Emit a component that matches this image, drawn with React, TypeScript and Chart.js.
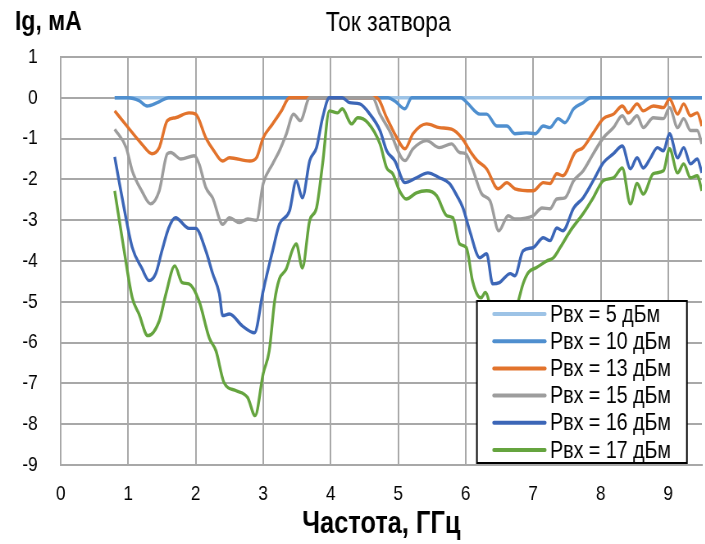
import { useEffect, useRef } from "react";
import { Chart, registerables } from "chart.js";

Chart.register(...registerables);

const FONT = "'Liberation Sans', Arial, sans-serif";

// The chart is laid out on a wider canvas and narrowed horizontally,
// which gives the condensed lettering of the original figure.
const SQUEEZE = 0.82;
const VIEW_W = 705;
const VIEW_H = 544;
const CANVAS_W = Math.round(VIEW_W / SQUEEZE);
const sx = (px: number) => px / SQUEEZE;

const chartTitle = "Ток затвора";
const yAxisTitle = "Ig, мА";
const xAxisTitle = "Частота, ГГц";

const seriesLabels = [
  "Рвх = 5 дБм",
  "Рвх = 10 дБм",
  "Рвх = 13 дБм",
  "Рвх = 15 дБм",
  "Рвх = 16 дБм",
  "Рвх = 17 дБм",
];
const seriesColors = ["#9dc3e6", "#4f8fcf", "#e2732c", "#9d9d9d", "#3c66b7", "#65a43f"];

// [frequency GHz, gate current mA]
const rvx5: [number, number][] = [
  [0.8, 0], [2, 0], [3, 0], [4, 0], [5, 0], [6, 0], [7, 0], [8, 0], [9, 0], [9.5, 0],
];

const rvx10: [number, number][] = [
  [0.8, 0], [1.0, 0], [1.16, -0.07], [1.28, -0.2], [1.43, -0.12], [1.6, 0], [2.5, 0], [3.5, 0],
  [4.5, 0], [4.85, 0], [4.95, -0.08], [5.1, -0.27], [5.2, 0], [5.5, 0], [5.93, 0], [6.02, -0.12],
  [6.21, -0.4], [6.31, -0.4], [6.46, -0.69], [6.61, -0.69], [6.73, -0.88], [6.9, -0.86],
  [7.03, -0.88], [7.15, -0.69], [7.25, -0.73], [7.37, -0.51], [7.47, -0.61], [7.6, -0.27],
  [7.74, -0.12], [7.85, 0], [8.5, 0], [9.0, 0], [9.5, 0],
];

const rvx13: [number, number][] = [
  [0.8, -0.32], [1.0, -0.73], [1.2, -1.13], [1.35, -1.37], [1.46, -1.22], [1.58, -0.56],
  [1.7, -0.49], [1.9, -0.37], [2.0, -0.4], [2.15, -0.98], [2.27, -1.3], [2.4, -1.55],
  [2.5, -1.47], [2.8, -1.55], [2.9, -1.47], [3.0, -0.98], [3.14, -0.64], [3.27, -0.32],
  [3.39, 0], [4.68, 0], [4.83, -0.49], [4.98, -0.98], [5.1, -1.25], [5.22, -0.88],
  [5.42, -0.64], [5.61, -0.73], [5.79, -0.77], [5.94, -0.98], [6.09, -1.37], [6.17, -1.54],
  [6.31, -1.74], [6.48, -2.23], [6.61, -2.08], [6.73, -2.23], [7.0, -2.28], [7.15, -2.08],
  [7.25, -2.1], [7.35, -1.86], [7.44, -1.91], [7.62, -1.34], [7.74, -1.22], [7.89, -0.86],
  [8.04, -0.51], [8.19, -0.4], [8.32, -0.2], [8.41, -0.37], [8.54, -0.15], [8.63, -0.32],
  [8.78, -0.2], [8.93, -0.24], [9.02, -0.03], [9.14, -0.4], [9.23, -0.15], [9.33, -0.44],
  [9.43, -0.37], [9.5, -0.69],
];

const rvx15: [number, number][] = [
  [0.8, -0.77], [0.97, -1.22], [1.06, -1.79], [1.2, -2.28], [1.33, -2.6], [1.46, -2.28],
  [1.58, -1.37], [1.63, -1.34], [1.78, -1.5], [1.98, -1.42], [2.05, -1.62], [2.15, -2.2],
  [2.25, -2.45], [2.4, -3.1], [2.5, -2.94], [2.65, -3.06], [2.77, -2.97], [2.9, -3.0],
  [3.0, -2.1], [3.14, -1.62], [3.24, -1.3], [3.34, -0.9], [3.45, -0.4], [3.55, -0.56],
  [3.69, 0], [4.62, 0], [4.73, -0.4], [4.87, -0.8], [5.1, -1.54], [5.22, -1.25], [5.42, -1.05],
  [5.61, -1.22], [5.79, -1.13], [5.91, -1.34], [6.0, -1.37], [6.1, -1.74], [6.24, -2.36],
  [6.36, -2.52], [6.49, -3.26], [6.63, -2.89], [6.73, -2.97], [7.0, -2.89], [7.13, -2.7],
  [7.25, -2.72], [7.35, -2.48], [7.47, -2.45], [7.6, -2.03], [7.74, -1.79], [7.89, -1.37],
  [8.04, -0.98], [8.19, -0.73], [8.32, -0.44], [8.41, -0.64], [8.54, -0.44], [8.63, -0.73],
  [8.78, -0.49], [8.93, -0.51], [9.02, -0.24], [9.14, -0.73], [9.23, -0.51], [9.33, -0.8],
  [9.43, -0.8], [9.5, -1.13],
];

const rvx16: [number, number][] = [
  [0.8, -1.45], [0.91, -2.45], [1.06, -3.67], [1.2, -4.17], [1.31, -4.48], [1.41, -4.3],
  [1.5, -3.75], [1.6, -3.19], [1.7, -2.94], [1.9, -3.2], [2.0, -3.2], [2.15, -3.75],
  [2.25, -4.3], [2.35, -4.8], [2.4, -5.34], [2.5, -5.3], [2.69, -5.59], [2.87, -5.76],
  [3.0, -4.73], [3.14, -3.75], [3.24, -3.1], [3.39, -2.77], [3.49, -2.03], [3.58, -2.45],
  [3.69, -1.54], [3.79, -1.22], [3.88, -0.49], [3.98, 0], [4.17, 0], [4.28, -0.12],
  [4.43, -0.15], [4.58, -0.4], [4.73, -0.8], [4.83, -1.3], [4.95, -1.54], [5.1, -2.08],
  [5.27, -1.96], [5.44, -1.84], [5.61, -1.96], [5.76, -2.1], [5.87, -2.4], [5.96, -2.7],
  [6.06, -3.26], [6.21, -3.92], [6.31, -3.82], [6.4, -4.56], [6.5, -4.53], [6.66, -4.31],
  [6.73, -4.36], [6.85, -3.75], [7.0, -3.67], [7.15, -3.43], [7.25, -3.5], [7.35, -3.19],
  [7.44, -3.26], [7.6, -2.7], [7.74, -2.45], [7.89, -2.03], [8.04, -1.59], [8.19, -1.37],
  [8.32, -1.18], [8.44, -1.74], [8.54, -1.47], [8.63, -1.72], [8.74, -1.47], [8.84, -1.22],
  [8.93, -1.3], [9.02, -0.88], [9.14, -1.47], [9.23, -1.22], [9.33, -1.62], [9.43, -1.5],
  [9.5, -1.84],
];

const rvx17: [number, number][] = [
  [0.8, -2.28], [0.94, -3.75], [1.06, -4.9], [1.16, -5.3], [1.29, -5.83], [1.46, -5.47],
  [1.56, -4.8], [1.69, -4.12], [1.8, -4.53], [1.9, -4.56], [2.05, -4.98], [2.2, -5.88],
  [2.3, -6.2], [2.42, -6.98], [2.6, -7.18], [2.77, -7.35], [2.88, -7.79], [3.0, -6.76],
  [3.09, -6.2], [3.17, -4.98], [3.24, -4.44], [3.34, -4.2], [3.44, -3.7], [3.49, -3.58],
  [3.58, -4.17], [3.69, -3.0], [3.79, -2.7], [3.88, -1.62], [3.98, -0.32], [4.1, -0.37],
  [4.17, -0.27], [4.31, -0.64], [4.4, -0.49], [4.55, -0.61], [4.73, -1.13], [4.83, -1.72],
  [4.92, -1.86], [5.02, -2.28], [5.12, -2.48], [5.27, -2.33], [5.42, -2.28], [5.57, -2.4],
  [5.72, -2.89], [5.81, -2.94], [5.91, -3.58], [6.01, -3.67], [6.1, -4.48], [6.18, -4.85],
  [6.23, -4.9], [6.29, -4.77], [6.4, -5.3], [6.55, -5.6], [6.7, -5.4], [6.78, -4.98],
  [6.85, -4.56], [6.93, -4.28], [7.05, -4.16], [7.2, -4.0], [7.3, -3.92], [7.4, -3.67],
  [7.55, -3.26], [7.74, -2.84], [7.89, -2.45], [8.04, -2.03], [8.19, -1.96], [8.32, -1.72],
  [8.44, -2.6], [8.54, -2.1], [8.63, -2.36], [8.78, -1.86], [8.93, -1.79], [9.02, -1.25],
  [9.14, -1.84], [9.23, -1.62], [9.33, -1.96], [9.43, -1.91], [9.5, -2.28],
];

const seriesData = [rvx5, rvx10, rvx13, rvx15, rvx16, rvx17];

const xMin = 0;
const xMax = 9.5;
const yMin = -9;
const yMax = 1;

// Chart title and the vertical-axis caption placed above the plot
const headingPlugin = {
  id: "headings",
  afterDraw(chart: any) {
    const { ctx, chartArea } = chart;
    ctx.save();
    ctx.fillStyle = "#000";
    ctx.textBaseline = "alphabetic";
    ctx.textAlign = "left";
    ctx.font = `bold 28px ${FONT}`;
    ctx.fillText(yAxisTitle, sx(15), 30);
    ctx.textAlign = "center";
    ctx.font = `28px ${FONT}`;
    ctx.fillText(chartTitle, (chartArea.left + chartArea.right) / 2 + sx(7), 31);
    ctx.restore();
  },
};

// Boxed legend sitting in the lower right of the plot area
const boxLegendPlugin = {
  id: "boxLegend",
  afterDatasetsDraw(chart: any) {
    const { ctx, chartArea } = chart;
    const left = chartArea.right - sx(225);
    const top = chartArea.top + 244;
    const width = sx(210);
    const height = 162;
    ctx.save();
    ctx.fillStyle = "#fff";
    ctx.fillRect(left, top, width, height);
    ctx.strokeStyle = "#000";
    ctx.lineWidth = 2;
    ctx.strokeRect(left, top, width, height);
    ctx.font = `24px ${FONT}`;
    ctx.textBaseline = "middle";
    ctx.textAlign = "left";
    seriesLabels.forEach((label, i) => {
      const y = top + 13 + i * 27.2;
      ctx.strokeStyle = seriesColors[i];
      ctx.lineWidth = 4;
      ctx.lineCap = "round";
      ctx.beginPath();
      ctx.moveTo(left + sx(17), y);
      ctx.lineTo(left + sx(68), y);
      ctx.stroke();
      ctx.fillStyle = "#000";
      ctx.fillText(label, left + sx(73), y + 1);
    });
    ctx.restore();
  },
};

export default function App() {
  const canvasRef = useRef<HTMLCanvasElement | null>(null);

  useEffect(() => {
    document.body.style.margin = "0";
    const canvas = canvasRef.current;
    if (!canvas) return;

    const datasets = seriesData.map((points, i) => ({
      label: seriesLabels[i],
      data: points.map(([x, y]) => ({ x, y })),
      borderColor: seriesColors[i],
      backgroundColor: seriesColors[i],
      borderWidth: 3.4,
      pointRadius: 0,
      fill: false,
      cubicInterpolationMode: "monotone" as const,
      order: seriesData.length - 1 - i,
    }));

    const gridColor = "#a8a8a8";

    const chart = new Chart(canvas, {
      type: "line",
      data: { datasets },
      plugins: [headingPlugin, boxLegendPlugin],
      options: {
        animation: false,
        responsive: false,
        devicePixelRatio: 1,
        layout: { padding: { top: 57, right: Math.round(sx(3)), left: 0, bottom: 0 } },
        plugins: {
          legend: { display: false },
          title: { display: false },
          tooltip: { enabled: false },
        },
        scales: {
          x: {
            type: "linear",
            min: xMin,
            max: xMax,
            afterFit(scale: any) {
              scale.height = 79;
            },
            ticks: {
              stepSize: 1,
              includeBounds: false,
              padding: 17,
              color: "#000",
              font: { family: FONT, size: 21 },
              maxRotation: 0,
            },
            grid: { color: gridColor, lineWidth: 2, drawTicks: false },
            border: { color: gridColor, width: 2 },
            title: {
              display: true,
              text: xAxisTitle,
              color: "#000",
              font: { family: FONT, size: 31, weight: "bold" },
              padding: { top: 0, bottom: 1 },
            },
          },
          y: {
            type: "linear",
            min: yMin,
            max: yMax,
            afterFit(scale: any) {
              scale.width = Math.round(sx(61));
            },
            ticks: {
              stepSize: 1,
              padding: Math.round(sx(23)),
              color: "#000",
              font: { family: FONT, size: 21 },
            },
            grid: { color: gridColor, lineWidth: 2, drawTicks: false },
            border: { color: gridColor, width: 2 },
          },
        },
      },
    });

    return () => chart.destroy();
  }, []);

  return (
    <div style={{ width: VIEW_W, height: VIEW_H, overflow: "hidden" }}>
      <canvas
        ref={canvasRef}
        width={CANVAS_W}
        height={VIEW_H}
        style={{
          display: "block",
          transform: `scaleX(${SQUEEZE})`,
          transformOrigin: "0 0",
        }}
      />
    </div>
  );
}
